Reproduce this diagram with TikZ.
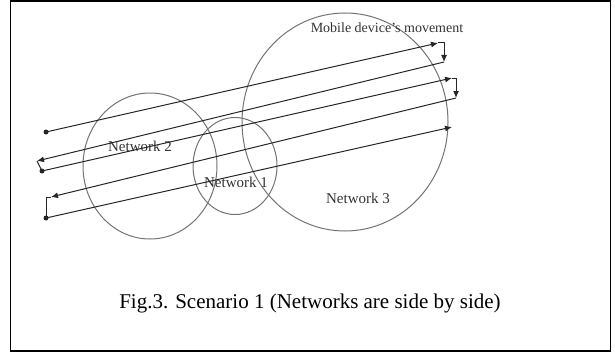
\documentclass[tikz,border=0pt]{standalone}
\usepackage{fontspec}
\setmainfont{Liberation Serif}
\usepackage{tikz}
\usetikzlibrary{arrows.meta, positioning, shapes.geometric}

\begin{document}
\begin{tikzpicture}[
    x=1pt, y=-1pt,
    net/.style={draw=black!55, line width=1pt, ellipse, inner sep=0pt},
    netlabel/.style={font=\fontsize{15}{17}\selectfont, text=black!80, inner sep=0pt},
    move/.style={draw=black!85, line width=1pt, -{Latex[length=7pt, width=6pt]}},
    leg/.style={draw=black!85, line width=1pt},
    startdot/.style={fill=black!85, circle, inner sep=0pt, minimum size=5pt}
]
\useasboundingbox (0,0) rectangle (615,353);

% Cadre
\draw[line width=1.5pt] (10.5,1) rectangle (610.5,351);

% Les trois réseaux
\node[net, minimum width=134pt, minimum height=146pt] (net2) at (150,166) {};
\node[net, minimum width=84pt, minimum height=97pt] (net1) at (235,166) {};
\node[net, minimum width=206pt, minimum height=218pt] (net3) at (345,122) {};

\node[netlabel] (lab2) at (140,146) {Network 2};
\node[netlabel] (lab1) at (236,182) {Network 1};
\node[netlabel] (lab3) at (358,198) {Network 3};
\node[font=\fontsize{14}{16}\selectfont, text=black!80, inner sep=0pt] (mob) at (387,28) {Mobile device's movement};

% Points du trajet
\coordinate (s1) at (46,132);  \coordinate (e1) at (438,43);
\coordinate (s2) at (444,62);  \coordinate (e2) at (37,161);
\coordinate (s3) at (42,171);  \coordinate (e3) at (452,78);
\coordinate (s4) at (456,98);  \coordinate (e4) at (51,197);
\coordinate (s5) at (46,218);  \coordinate (e5) at (452,127);

% Trajet du mobile
\draw[move] (s1) -- (e1);
\draw[move] (e1) -| (s2);
\draw[move] (s2) -- (e2);
\draw[leg] (e2) -- (s3);
\draw[move] (s3) -- (e3);
\draw[move] (e3) -| (s4);
\draw[move] (s4) -- (e4);
\draw[leg] (e4) -| (s5);
\draw[move] (s5) -- (e5);

\node[startdot] (d1) at (s1) {};
\node[startdot] (d3) at (s3) {};
\node[startdot] (d5) at (s5) {};

% Légende
\node[font=\fontsize{21}{24}\selectfont] (cap) at (310,303) {Fig.3. Scenario 1 (Networks are side by side)};

\end{tikzpicture}
\end{document}
